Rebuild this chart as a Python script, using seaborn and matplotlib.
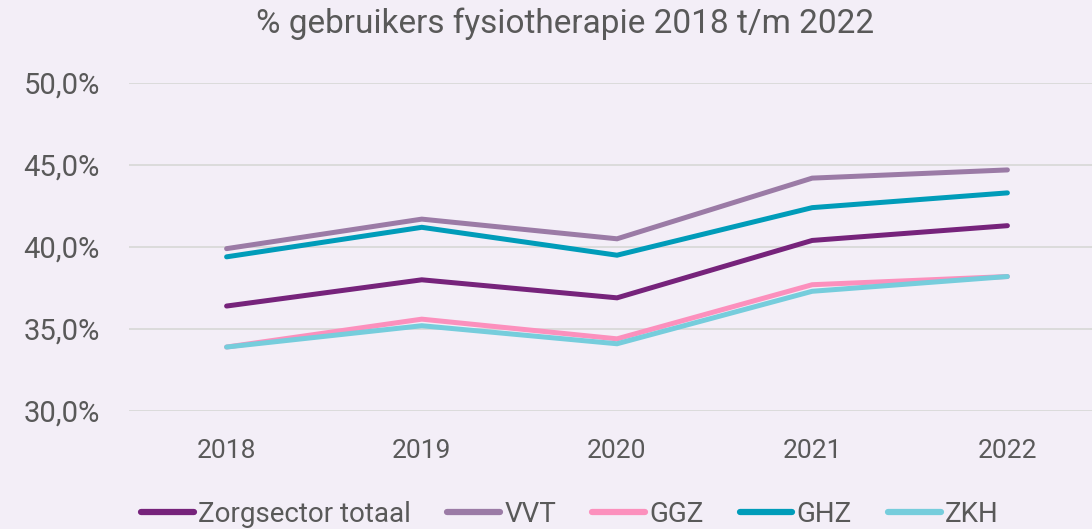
import pandas as pd
import matplotlib
matplotlib.use("Agg")
import matplotlib.pyplot as plt
from matplotlib.ticker import FuncFormatter
import seaborn as sns

# data
years = ["2018", "2019", "2020", "2021", "2022"]
zorgsector_totaal = [36.4, 38.0, 36.9, 40.4, 41.3]
vvt = [39.9, 41.7, 40.5, 44.2, 44.7]
ggz = [33.9, 35.6, 34.4, 37.7, 38.2]
ghz = [39.4, 41.2, 39.5, 42.4, 43.3]
zkh = [33.9, 35.2, 34.1, 37.3, 38.2]

series = {
    "Zorgsector totaal": zorgsector_totaal,
    "VVT": vvt,
    "GGZ": ggz,
    "GHZ": ghz,
    "ZKH": zkh,
}
colors = {
    "Zorgsector totaal": "#76237B",
    "VVT": "#9B7BA6",
    "GGZ": "#FC90BD",
    "GHZ": "#009CB9",
    "ZKH": "#76CDDC",
}

# long format for seaborn
df = pd.DataFrame(
    [(name, yr, val) for name, vals in series.items() for yr, val in zip(years, vals)],
    columns=["sector", "jaar", "pct"],
)

bg = "#F3EEF7"
txt = "#595959"

sns.set_style("white")
plt.rcParams["font.family"] = ["Roboto", "DejaVu Sans"]

fig = plt.figure(figsize=(10.92, 5.29), dpi=100, facecolor=bg)
ax = fig.add_axes([129 / 1092, 1 - 411 / 529, (1105 - 129) / 1092, 328 / 529])
ax.set_facecolor(bg)

sns.lineplot(data=df, x="jaar", y="pct", hue="sector", palette=colors,
             hue_order=list(series.keys()), linewidth=3.6, ax=ax,
             legend=False, solid_capstyle="round", solid_joinstyle="miter")

ax.set_xlim(-0.5, 4.5)
ax.set_ylim(30, 50)
ax.set_yticks([30, 35, 40, 45, 50])
ax.yaxis.set_major_formatter(FuncFormatter(lambda v, _: f"{v:.1f}%".replace(".", ",")))
ax.grid(axis="y", color="#D9D9D9", linewidth=1.3)
ax.set_axisbelow(True)
for s in ax.spines.values():
    s.set_visible(False)
ax.tick_params(axis="y", length=0, pad=21, labelsize=21, labelcolor=txt)
ax.tick_params(axis="x", length=0, pad=20, labelsize=19, labelcolor=txt)
ax.set_xlabel("")
ax.set_ylabel("")

fig.text(0.517, 0.956, "% gebruikers fysiotherapie 2018 t/m 2022",
         ha="center", va="center", fontsize=24, color=txt)

handles = [plt.Line2D([], [], color=colors[n], linewidth=4.5, solid_capstyle="round")
           for n in series]
fig.legend(handles, list(series.keys()), loc="center", bbox_to_anchor=(0.522, 0.027),
           ncol=5, frameon=False, fontsize=20, labelcolor=txt, handlelength=1.9,
           handletextpad=0.15, columnspacing=1.3)

fig.savefig("out.png", dpi=100, facecolor=bg)
